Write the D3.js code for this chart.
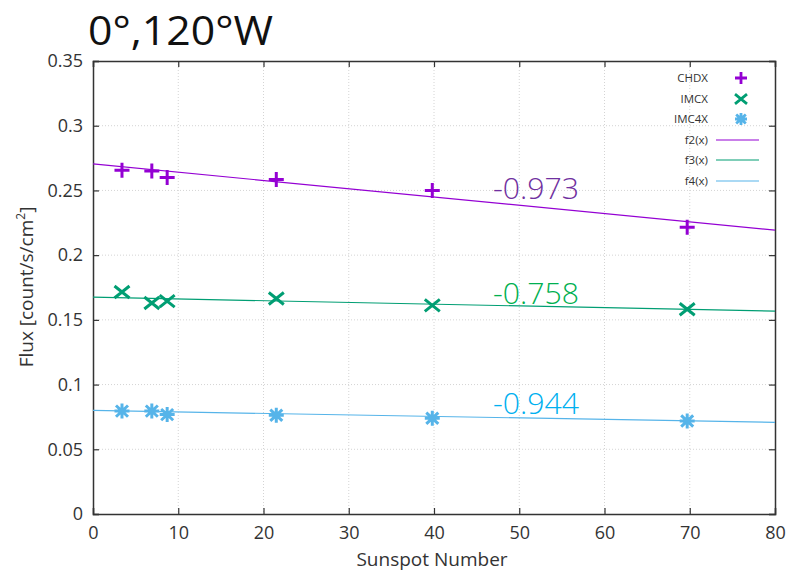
<!DOCTYPE html>
<html><head><meta charset="utf-8">
<script src="https://cdn.jsdelivr.net/npm/d3@7"></script>
<style>body{margin:0;background:#fff;} text{font-family:"Open Sans","Noto Sans",sans-serif;}</style>
</head><body><svg id="c" width="793" height="573"></svg>
<script>
const sunspot = [3.4, 6.9, 8.7, 21.5, 39.8, 69.7];
const chdx  = [0.2655, 0.2650, 0.2600, 0.2585, 0.2500, 0.2215];
const imcx  = [0.1715, 0.1630, 0.1645, 0.1665, 0.1612, 0.1582];
const imc4x = [0.0795, 0.0795, 0.0768, 0.0763, 0.0740, 0.0718];
const seriesNames = ["CHDX", "IMCX", "IMC4X"];
const fitNames = ["f2(x)", "f3(x)", "f4(x)"];
const fitIntercept = [0.2705, 0.1675, 0.0800];
const fitSlope = [-0.000640, -0.000135, -0.000115];
const corrLabels = ["-0.973", "-0.758", "-0.944"];
const xTicks = [0,10,20,30,40,50,60,70,80];
const yTicks = [0,0.05,0.1,0.15,0.2,0.25,0.3,0.35];

const markerColors = ["#9400D3", "#009E73", "#56B4E9"];
const corrColors = ["#7030A0", "#00B050", "#00B0F0"];

const svg = d3.select("#c");
const L = 93, R = 775, T = 61, B = 514;
const x = d3.scaleLinear().domain([0,80]).range([L,R]);
const y = d3.scaleLinear().domain([0,0.35]).range([B,T]);

// grid
svg.append("g").selectAll("line.gx").data(xTicks.slice(1,-1)).join("line")
  .attr("x1", d=>x(d)).attr("x2", d=>x(d)).attr("y1", T).attr("y2", B)
  .attr("stroke", "#d4d4d4").attr("stroke-width", 1).attr("stroke-dasharray", "1,2");
svg.append("g").selectAll("line.gy").data(yTicks.slice(1,-1)).join("line")
  .attr("x1", L).attr("x2", R).attr("y1", d=>y(d)).attr("y2", d=>y(d))
  .attr("stroke", "#d4d4d4").attr("stroke-width", 1).attr("stroke-dasharray", "1,2");

// axes (inward ticks, mirrored)
const tickLen = 6;
const axB = svg.append("g").attr("transform", `translate(0,${B})`)
  .call(d3.axisBottom(x).tickValues(xTicks).tickSize(-tickLen).tickPadding(12).tickFormat(d3.format("d")));
const axT = svg.append("g").attr("transform", `translate(0,${T})`)
  .call(d3.axisTop(x).tickValues(xTicks).tickSize(-tickLen).tickFormat(""));
const axL = svg.append("g").attr("transform", `translate(${L},0)`)
  .call(d3.axisLeft(y).tickValues(yTicks).tickSize(-tickLen).tickPadding(10).tickFormat(d=> d===0?"0":d3.format("")(d)));
const axR = svg.append("g").attr("transform", `translate(${R},0)`)
  .call(d3.axisRight(y).tickValues(yTicks).tickSize(-tickLen).tickFormat(""));
[axB,axT,axL,axR].forEach(a=>{
  a.select(".domain").attr("stroke","#333").attr("stroke-width",1.5);
  a.selectAll(".tick line").attr("stroke","#333").attr("stroke-width",1.2);
  a.selectAll("text").attr("fill","#333").style("font-size","18px").style("font-family","'Open Sans',sans-serif");
});
axB.selectAll("text").attr("dy","0.71em");

// fit lines
const seriesData = [chdx, imcx, imc4x];
fitIntercept.forEach((b,i)=>{
  svg.append("line")
    .attr("x1", x(0)).attr("x2", x(80))
    .attr("y1", y(b)).attr("y2", y(b + fitSlope[i]*80))
    .attr("stroke", markerColors[i]).attr("stroke-width", 1.2);
});

// markers
function drawMarker(g, type, cx, cy, s, color, sw){
  if(type===0){
    g.append("path").attr("d",`M${cx-s},${cy}H${cx+s}M${cx},${cy-s}V${cy+s}`)
      .attr("stroke",color).attr("stroke-width",sw).attr("fill","none");
  } else if(type===1){
    g.append("path").attr("d",`M${cx-s},${cy-s*0.8}L${cx+s},${cy+s*0.8}M${cx-s},${cy+s*0.8}L${cx+s},${cy-s*0.8}`)
      .attr("stroke",color).attr("stroke-width",sw).attr("fill","none");
  } else {
    g.append("path").attr("d",`M${cx-s},${cy}H${cx+s}M${cx},${cy-s}V${cy+s}M${cx-s*0.8},${cy-s*0.75}L${cx+s*0.8},${cy+s*0.75}M${cx-s*0.8},${cy+s*0.75}L${cx+s*0.8},${cy-s*0.75}`)
      .attr("stroke",color).attr("stroke-width",sw).attr("fill","none");
  }
}
const mg = svg.append("g");
seriesData.forEach((arr,i)=>{
  arr.forEach((v,j)=> drawMarker(mg, i, x(sunspot[j]), y(v), 7.5, markerColors[i], 3));
});

// correlation labels
corrLabels.forEach((t,i)=>{
  svg.append("text").attr("x", 493).attr("y", [199, 304, 414][i])
    .attr("fill", corrColors[i]).style("font-size","29px").style("font-weight","300")
    .attr("textLength", 86).attr("lengthAdjust","spacingAndGlyphs")
    .text(t);
});

// legend
const lg = svg.append("g");
const legY = [78, 99, 119, 140, 160, 181];
seriesNames.concat(fitNames).forEach((n,i)=>{
  lg.append("text").attr("x", 708).attr("y", legY[i]).attr("dy","0.35em")
    .attr("text-anchor","end").attr("fill","#333").style("font-size","11.5px").text(n);
  if(i<3) drawMarker(lg, i, 741, legY[i], 6, markerColors[i], 2.8);
  else lg.append("line").attr("x1",716).attr("x2",759).attr("y1",legY[i]).attr("y2",legY[i])
    .attr("stroke", markerColors[i-3]).attr("stroke-width",1.2);
});

// titles
svg.append("text").attr("x", 88).attr("y", 45).attr("fill","#111")
  .style("font-size","40px").style("font-family","'Open Sans',sans-serif")
  .attr("textLength", 185).attr("lengthAdjust","spacingAndGlyphs").text("0°,120°W");
svg.append("text").attr("x", 432).attr("y", 566).attr("text-anchor","middle").attr("fill","#333")
  .style("font-size","19px").text("Sunspot Number");
const yl = svg.append("text").attr("transform","translate(33,287) rotate(-90)")
  .attr("text-anchor","middle").attr("fill","#333").style("font-size","19px");
yl.append("tspan").text("Flux [count/s/cm");
yl.append("tspan").attr("dy","-8").style("font-size","12px").text("2");
yl.append("tspan").attr("dy","8").text("]");
</script></body></html>
